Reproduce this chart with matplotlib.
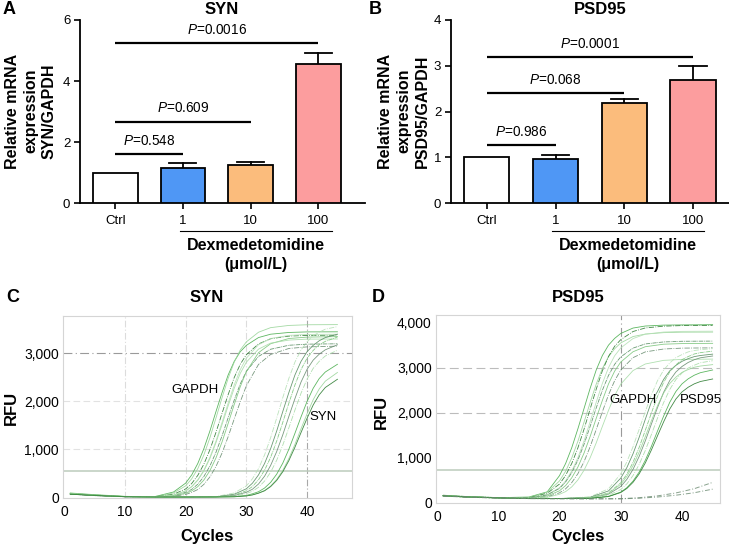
import numpy as np
import matplotlib
matplotlib.use("Agg")
import matplotlib.pyplot as plt
import matplotlib.transforms as mtransforms

plt.rcParams['font.family'] = ['Liberation Sans', 'DejaVu Sans']
plt.rcParams['mathtext.fontset'] = 'custom'
plt.rcParams['mathtext.it'] = 'Liberation Sans:italic'
plt.rcParams['mathtext.rm'] = 'Liberation Sans'

# ---- bar data (panels A, B) ----
groups = ["Ctrl", "1", "10", "100"]
bar_colors = ["#ffffff", "#4f97f5", "#fbbc7c", "#fc9d9e"]

syn_mean = [1.0, 1.16, 1.25, 4.55]
syn_err = [0.0, 0.14, 0.08, 0.38]
syn_p = ["0.548", "0.609", "0.0016"]
syn_p_to = [1, 2, 3]
syn_p_y = [1.6, 2.67, 5.24]

psd_mean = [1.0, 0.97, 2.18, 2.68]
psd_err = [0.0, 0.08, 0.09, 0.31]
psd_p = ["0.986", "0.068", "0.0001"]
psd_p_to = [1, 2, 3]
psd_p_y = [1.27, 2.4, 3.2]

# ---- amplification curves (panels C, D), RFU read at these cycles ----
cyc_g = [1, 5, 10, 15, 18, 20, 21, 22, 23, 24, 25, 26, 27, 28, 29, 30, 32, 34, 37, 40, 45]
cyc_t = [1, 5, 10, 15, 20, 25, 28, 30, 31, 32, 33, 34, 35, 36, 37, 38, 39, 40, 41, 42, 43, 45]
cyc_n = [1, 5, 10, 15, 20, 25, 30, 33, 36, 39, 42, 45]

c_gapdh = [
    [75, 40, 10, 12, 105, 290, 462, 700, 1010, 1380, 1786, 2182, 2548, 2832, 3035, 3167, 3330, 3400, 3436, 3448, 3450],
    [80, 45, 12, 10, 85, 233, 381, 593, 879, 1239, 1652, 2075, 2478, 2817, 3071, 3240, 3441, 3537, 3583, 3597, 3600],
    [65, 35, 8, 8, 58, 169, 283, 452, 686, 989, 1352, 1750, 2137, 2495, 2773, 2972, 3196, 3305, 3360, 3375, 3380],
    [70, 40, 10, 5, 40, 130, 220, 360, 560, 830, 1170, 1560, 1960, 2340, 2660, 2900, 3180, 3310, 3375, 3395, 3400],
    [60, 30, 5, 4, 28, 99, 160, 268, 428, 649, 936, 1280, 1656, 2023, 2362, 2625, 2936, 3086, 3169, 3192, 3200],
    [85, 50, 15, 3, 20, 79, 128, 217, 355, 552, 818, 1152, 1537, 1931, 2305, 2620, 3014, 3201, 3310, 3339, 3350],
    [70, 38, 8, 2, 14, 54, 97, 157, 264, 421, 639, 921, 1259, 1630, 1991, 2324, 2769, 2977, 3102, 3135, 3150],
    [65, 35, 10, 5, 39, 126, 214, 350, 544, 806, 1136, 1515, 1903, 2272, 2583, 2816, 3088, 3214, 3277, 3297, 3300],
]
c_syn = [
    [70, 40, 10, 0, 0, 10, 85, 233, 381, 593, 879, 1239, 1652, 2075, 2478, 2817, 3071, 3240, 3367, 3441, 3505, 3558],
    [65, 35, 8, 0, 0, 5, 59, 173, 289, 462, 700, 1010, 1380, 1786, 2182, 2548, 2832, 3035, 3167, 3263, 3329, 3400],
    [75, 42, 12, 0, 0, 4, 40, 130, 220, 360, 560, 830, 1170, 1560, 1960, 2340, 2660, 2900, 3060, 3180, 3250, 3340],
    [60, 30, 6, 0, 0, 3, 29, 100, 163, 272, 435, 660, 951, 1300, 1683, 2055, 2400, 2667, 2858, 2983, 3074, 3179],
    [70, 40, 10, 0, 0, 2, 19, 74, 120, 204, 333, 519, 769, 1084, 1445, 1815, 2167, 2463, 2685, 2834, 2945, 3065],
    [65, 38, 8, 0, 0, 2, 9, 34, 68, 111, 188, 307, 478, 708, 998, 1331, 1672, 1996, 2269, 2474, 2610, 2772],
    [70, 40, 10, 0, 0, 1, 6, 24, 47, 85, 138, 231, 368, 558, 805, 1100, 1424, 1739, 2031, 2257, 2419, 2601],
    [60, 35, 8, 0, 0, 1, 5, 23, 44, 80, 130, 218, 348, 528, 761, 1040, 1346, 1645, 1920, 2134, 2287, 2459],
]

d_gapdh = [
    [160, 130, 110, 125, 240, 600, 870, 1220, 1640, 2090, 2540, 2950, 3270, 3500, 3650, 3760, 3880, 3925, 3945, 3950, 3955],
    [150, 125, 105, 112, 231, 482, 699, 993, 1363, 1787, 2223, 2636, 2984, 3245, 3419, 3550, 3691, 3746, 3778, 3788, 3790],
    [165, 135, 112, 107, 209, 413, 605, 871, 1216, 1630, 2082, 2524, 2931, 3248, 3475, 3622, 3803, 3882, 3922, 3935, 3940],
    [155, 128, 108, 101, 178, 331, 484, 703, 998, 1370, 1797, 2234, 2650, 3000, 3263, 3438, 3646, 3744, 3791, 3806, 3810],
    [160, 130, 110, 100, 172, 316, 460, 666, 944, 1294, 1695, 2107, 2498, 2827, 3074, 3239, 3434, 3527, 3571, 3586, 3590],
    [150, 122, 104, 97, 149, 263, 379, 552, 790, 1100, 1470, 1876, 2272, 2638, 2922, 3125, 3353, 3465, 3521, 3535, 3540],
    [158, 128, 108, 95, 129, 218, 307, 445, 642, 908, 1242, 1627, 2021, 2395, 2710, 2947, 3222, 3350, 3414, 3434, 3440],
    [152, 126, 106, 94, 117, 186, 245, 350, 505, 719, 997, 1330, 1695, 2051, 2379, 2634, 2935, 3081, 3162, 3183, 3190],
]
d_psd = [
    [160, 130, 110, 90, 92, 129, 307, 642, 908, 1242, 1627, 2021, 2395, 2710, 2947, 3104, 3222, 3291, 3350, 3380, 3400, 3422],
    [155, 128, 108, 90, 91, 120, 260, 545, 780, 1085, 1450, 1850, 2240, 2470, 2740, 2930, 3050, 3140, 3200, 3245, 3270, 3300],
    [162, 132, 112, 90, 90, 109, 216, 440, 634, 896, 1226, 1605, 1993, 2362, 2673, 2906, 3061, 3178, 3246, 3304, 3333, 3367],
    [150, 124, 104, 90, 90, 104, 189, 358, 518, 739, 1026, 1370, 1746, 2113, 2452, 2715, 2904, 3026, 3115, 3176, 3219, 3259],
    [158, 130, 110, 90, 90, 99, 163, 291, 418, 601, 847, 1157, 1513, 1878, 2224, 2516, 2735, 2881, 2990, 3054, 3109, 3154],
    [152, 126, 106, 90, 90, 96, 139, 235, 333, 478, 679, 939, 1250, 1591, 1924, 2231, 2470, 2640, 2751, 2832, 2888, 2948],
    [160, 130, 110, 90, 90, 108, 205, 408, 584, 822, 1122, 1466, 1819, 2154, 2436, 2648, 2789, 2895, 2957, 3009, 3036, 3067],
    [155, 128, 108, 90, 90, 95, 135, 225, 316, 451, 638, 880, 1170, 1486, 1796, 2081, 2303, 2461, 2564, 2640, 2692, 2748],
]
d_slow = [
    [150, 125, 105, 92, 88, 85, 88, 110, 150, 215, 310, 450],
    [145, 120, 100, 90, 86, 84, 85, 98, 125, 165, 220, 300],
]

rfu_c_ticks = [0, 1000, 2000, 3000]
rfu_c_labels = ["0", "1,000", "2,000", "3,000"]
rfu_d_ticks = [0, 1000, 2000, 3000, 4000]
rfu_d_labels = ["0", "1,000", "2,000", "3,000", "4,000"]

line_colors = ["#4caf50", "#9ad59a", "#2e7d32", "#b5e0b5", "#5a8f64", "#7cc67c", "#6b8f72", "#a8dca8"]
line_styles = ["-", "-", "-.", "-", (0, (5, 1, 1, 1)), "-", "-.", "-"]

fig = plt.figure(figsize=(7.29, 5.45), dpi=100)
W, H = 729.0, 545.0


def px_axes(l, t, r, b):
    return fig.add_axes([l / W, 1 - b / H, (r - l) / W, (b - t) / H])


def bar_panel(ax, means, errs, p_lab, p_to, p_y, ymax, yticks, xright, dy, dex):
    x = np.arange(len(groups))
    ax.bar(x, means, width=0.66, color=bar_colors, edgecolor="black", linewidth=1.3, zorder=3)
    for i in range(1, len(groups)):
        top = means[i] + errs[i]
        ax.plot([x[i], x[i]], [means[i], top], color="black", lw=1.3, zorder=2)
        ax.plot([x[i] - 0.2, x[i] + 0.2], [top, top], color="black", lw=1.3, zorder=2)
    for lab, j, yv in zip(p_lab, p_to, p_y):
        ax.plot([0, j], [yv, yv], color="black", lw=1.6, solid_capstyle="butt")
        ax.text(j / 2, yv + dy, r"$\it{P}$=" + lab, ha="center", va="bottom", fontsize=9.8)
    ax.set_xlim(-0.52, xright)
    ax.set_ylim(0, ymax)
    ax.set_yticks(yticks)
    ax.set_xticks(x)
    ax.set_xticklabels(groups)
    for s in ["top", "right"]:
        ax.spines[s].set_visible(False)
    for s in ["left", "bottom"]:
        ax.spines[s].set_linewidth(1.3)
    ax.tick_params(direction="out", length=4, width=1.2, labelsize=9.5, pad=3)
    ax.tick_params(axis="x", pad=4.5)
    trans = mtransforms.blended_transform_factory(ax.transData, ax.transAxes)
    ax.plot([dex[0], dex[1]], [-0.155, -0.155], transform=trans, color="black", lw=0.8, clip_on=False)
    ax.text(dex[2], -0.19, "Dexmedetomidine\n(\u03bcmol/L)", transform=trans, ha="center", va="top",
            fontsize=11.5, fontweight="bold", linespacing=1.35)


def amp_panel(ax, cyc_a, set_a, cyc_b, set_b, xr, yr, yt, ytl, thr, grid_v, grid_h):
    for v, col, ls in grid_v:
        ax.axvline(v, color=col, lw=0.8, ls=ls, zorder=1)
    for h, col, ls in grid_h:
        ax.axhline(h, color=col, lw=0.8, ls=ls, zorder=1)
    ax.axhline(thr, color="#bccbbc", lw=1.1, zorder=1)
    for k, y in enumerate(set_a):
        ax.plot(cyc_a, y, color=line_colors[k % 8], ls=line_styles[k % 8], lw=0.6, alpha=0.9, zorder=2)
    for k, y in enumerate(set_b):
        ax.plot(cyc_b, y, color=line_colors[(k + 3) % 8], ls=line_styles[(k + 2) % 8], lw=0.6, alpha=0.9, zorder=2)
    ax.set_xlim(*xr)
    ax.set_ylim(*yr)
    ax.set_xticks([0, 10, 20, 30, 40])
    ax.set_yticks(yt)
    ax.set_yticklabels(ytl)
    for s in ax.spines.values():
        s.set_color("#d5d5d5")
        s.set_linewidth(0.8)
    ax.tick_params(length=0, labelsize=10, pad=3)
    ax.tick_params(axis="x", pad=5)


# A
axA = px_axes(80, 20, 365, 203)
bar_panel(axA, syn_mean, syn_err, syn_p, syn_p_to, syn_p_y, 6, [0, 2, 4, 6], 3.69, 0.2, (0.96, 3.2, 2.08))
# B
axB = px_axes(451, 20, 733, 203)
bar_panel(axB, psd_mean, psd_err, psd_p, psd_p_to, psd_p_y, 4, [0, 1, 2, 3, 4], 3.58, 0.13, (0.95, 3.16, 2.05))

# C
axC = px_axes(63, 316, 352, 498)
amp_panel(axC, cyc_g, c_gapdh, cyc_t, c_syn, (-0.2, 47.4), (-20, 3780), rfu_c_ticks, rfu_c_labels, 550,
          [(10, "#dcdcdc", (0, (6, 2, 1, 2))), (20, "#dcdcdc", (0, (6, 2, 1, 2))),
           (30, "#dcdcdc", (0, (6, 2, 1, 2))), (40, "#a8a8a8", (0, (6, 2, 1, 2)))],
          [(1000, "#e2e2e2", (0, (6, 3))), (2000, "#e2e2e2", (0, (6, 3))), (3000, "#9a9a9a", (0, (8, 3, 1, 3)))])
axC.text(21.6, 2240, "GAPDH", ha="center", va="center", fontsize=9.5)
axC.text(42.6, 1680, "SYN", ha="center", va="center", fontsize=9.5)

# D
axD = px_axes(436, 315, 720, 503)
amp_panel(axD, cyc_g, d_gapdh, cyc_t, d_psd, (-0.16, 46.2), (-8, 4170), rfu_d_ticks, rfu_d_labels, 720,
          [(30, "#9a9a9a", (0, (8, 3, 1, 3)))],
          [(2000, "#bcbcbc", (0, (8, 4))), (3000, "#bcbcbc", (0, (8, 4)))])
for y in d_slow:
    axD.plot(cyc_n, y, color="#6a8a70", ls=(0, (5, 2, 1, 2)), lw=0.7, alpha=0.8)
axD.text(32.0, 2280, "GAPDH", ha="center", va="center", fontsize=9.5)
axD.text(43.1, 2280, "PSD95", ha="center", va="center", fontsize=9.5)

# titles, panel letters and axis labels
bold = dict(fontweight="bold", ha="center", va="center")
fig.text(222 / W, 1 - 10 / H, "SYN", fontsize=12, **bold)
fig.text(600 / W, 1 - 10 / H, "PSD95", fontsize=12, **bold)
fig.text(207 / W, 1 - 297 / H, "SYN", fontsize=12, **bold)
fig.text(578 / W, 1 - 297 / H, "PSD95", fontsize=12, **bold)
fig.text(9 / W, 1 - 10 / H, "A", fontsize=13, **bold)
fig.text(375 / W, 1 - 10 / H, "B", fontsize=13, **bold)
fig.text(13 / W, 1 - 297 / H, "C", fontsize=13, **bold)
fig.text(378 / W, 1 - 297 / H, "D", fontsize=13, **bold)
fig.text(31 / W, 1 - 111 / H, "Relative mRNA\nexpression\nSYN/GAPDH", fontsize=11.5, rotation=90,
         linespacing=1.25, multialignment="center", **bold)
fig.text(404 / W, 1 - 111 / H, "Relative mRNA\nexpression\nPSD95/GAPDH", fontsize=11.5, rotation=90,
         linespacing=1.25, multialignment="center", **bold)
fig.text(11 / W, 1 - 408 / H, "RFU", fontsize=12, rotation=90, **bold)
fig.text(381 / W, 1 - 412 / H, "RFU", fontsize=12, rotation=90, **bold)
fig.text(207 / W, 1 - 536 / H, "Cycles", fontsize=12, **bold)
fig.text(578 / W, 1 - 536 / H, "Cycles", fontsize=12, **bold)

fig.savefig("out.png", dpi=100)
